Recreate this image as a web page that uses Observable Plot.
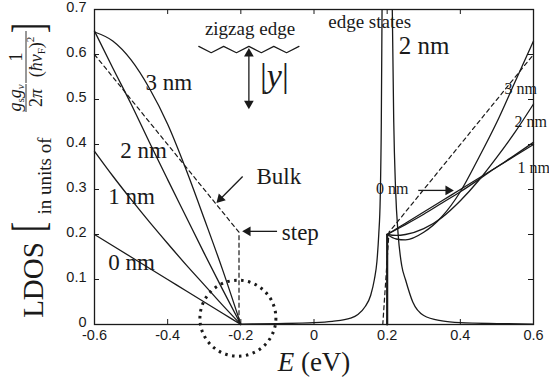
<!DOCTYPE html>
<html><head><meta charset="utf-8">
<script src="https://cdn.jsdelivr.net/npm/d3@7"></script>
<script src="https://cdn.jsdelivr.net/npm/@observablehq/plot@0.6"></script>
<style>body{margin:0;background:#fff;} svg{display:block;}</style>
</head><body><div id="chart"></div>
<script>
// ---- data ----
const xTicks = [-0.6, -0.4, -0.2, 0, 0.2, 0.4, 0.6];
const yTicks = [0, 0.1, 0.2, 0.3, 0.4, 0.5, 0.6, 0.7];

// hole side (E < -0.2)
const eLeft = [-0.6, -0.55, -0.5, -0.45, -0.4, -0.35, -0.3, -0.25, -0.2];
const ldos0Left = [0.2, 0.175, 0.15, 0.125, 0.1, 0.075, 0.05, 0.025, 0];
const ldos1Left = [0.385, 0.33, 0.278, 0.228, 0.18, 0.133, 0.088, 0.043, 0];
const ldos2Left = [0.652, 0.57, 0.49, 0.405, 0.322, 0.24, 0.158, 0.078, 0];
const ldos3Left = [0.65, 0.63, 0.588, 0.525, 0.445, 0.345, 0.235, 0.122, 0];

// electron side (E > 0.2)
const eRight = [0.2, 0.225, 0.25, 0.3, 0.35, 0.4, 0.45, 0.5, 0.55, 0.6];
const ldos0Right = [0.2, 0.2125, 0.225, 0.25, 0.275, 0.3, 0.325, 0.35, 0.375, 0.4];
const ldos1Right = [0.2, 0.211, 0.222, 0.245, 0.27, 0.295, 0.322, 0.35, 0.377, 0.405];
const ldos2Right = [0.2, 0.198, 0.2, 0.213, 0.238, 0.275, 0.32, 0.372, 0.428, 0.49];
const ldos3Right = [0.2, 0.19, 0.188, 0.205, 0.24, 0.295, 0.37, 0.45, 0.54, 0.63];

// step of the solid curves at E = 0.2
const stepE = [0.2, 0.2];
const stepL = [0, 0.2];

// bulk (dashed)
const bulkE = [-0.6, -0.205, -0.205, 0.188, 0.205, 0.6];
const bulkL = [0.6, 0.205, 0, 0, 0.205, 0.6];

// edge-state peak (2 nm)
const edgeE = [-0.2, -0.1, 0, 0.05, 0.1, 0.12, 0.14, 0.155, 0.165, 0.172, 0.177, 0.181, 0.184, 0.186, 0.19, 0.2, 0.21, 0.214, 0.218, 0.223, 0.23, 0.24, 0.25, 0.27, 0.3, 0.35, 0.4, 0.5, 0.6];
const edgeL = [0.001, 0.002, 0.004, 0.007, 0.014, 0.022, 0.04, 0.065, 0.1, 0.14, 0.2, 0.28, 0.45, 0.7, 1.2, 2.0, 1.2, 0.7, 0.45, 0.3, 0.2, 0.13, 0.1, 0.05, 0.02, 0.008, 0.004, 0.002, 0.001];

// annotations
const labelText = ["3 nm", "2 nm", "1 nm", "0 nm", "Bulk", "edge states", "2 nm", "zigzag edge", "0 nm"];
const labelE = [-0.397, -0.466, -0.499, -0.499, -0.096, 0.152, 0.301, -0.175, 0.214];
const labelL = [0.538, 0.387, 0.284, 0.138, 0.329, 0.673, 0.619, 0.656, 0.302];
const labelSize = [23, 23, 23, 23, 23, 19, 25, 19, 16];

const startText = ["step", "3 nm", "2 nm", "1 nm"];
const startE = [-0.088, 0.5205, 0.548, 0.556];
const startL = [0.204, 0.524, 0.451, 0.347];
const startSize = [23, 16, 16, 16];

const arrowE1 = [-0.195, -0.101, 0.285, -0.178];
const arrowL1 = [0.329, 0.207, 0.298, 0.602];
const arrowE2 = [-0.256, -0.181, 0.367, -0.178];
const arrowL2 = [0.279, 0.207, 0.298, 0.491];

const headE = [-0.256, -0.181, 0.367, -0.178, -0.178];
const headL = [0.279, 0.207, 0.298, 0.602, 0.491];
const headAngle = [224, 270, 90, 0, 180];

const zigE = [-0.315, -0.281, -0.247, -0.212, -0.178, -0.144, -0.110, -0.075, -0.041];
const zigL = [0.618, 0.604, 0.618, 0.604, 0.618, 0.604, 0.618, 0.604, 0.618];

const circleE = [-0.208];
const circleL = [0.014];

// ---- tables ----
const curves = [];
[[ldos0Left, "0L"], [ldos1Left, "1L"], [ldos2Left, "2L"], [ldos3Left, "3L"]].forEach(([v, s]) =>
  eLeft.forEach((e, i) => curves.push({E: e, L: v[i], s})));
[[ldos0Right, "0R"], [ldos1Right, "1R"], [ldos2Right, "2R"], [ldos3Right, "3R"]].forEach(([v, s]) =>
  eRight.forEach((e, i) => curves.push({E: e, L: v[i], s})));
const step = stepE.map((e, i) => ({E: e, L: stepL[i]}));
const bulk = bulkE.map((e, i) => ({E: e, L: bulkL[i]}));
const edge = edgeE.map((e, i) => ({E: e, L: edgeL[i]}));
const labels = labelText.map((t, i) => ({t, E: labelE[i], L: labelL[i], size: labelSize[i]}));
const startLabels = startText.map((t, i) => ({t, E: startE[i], L: startL[i], size: startSize[i]}));
const arrows = arrowE1.map((e, i) => ({E1: e, L1: arrowL1[i], E2: arrowE2[i], L2: arrowL2[i]}));
const heads = headE.map((e, i) => ({E: e, L: headL[i], a: headAngle[i]}));
const zig = zigE.map((e, i) => ({E: e, L: zigL[i]}));
const circle = circleE.map((e, i) => ({E: e, L: circleL[i]}));

const W = 549, H = 381, mL = 94, mR = 16, mT = 9, mB = 57;
const ink = "#1a1a1a";
const serif = "'Liberation Serif', 'Times New Roman', serif";
const sans = "'Liberation Sans', Arial, Helvetica, sans-serif";

const marks = [
  Plot.frame({stroke: ink, strokeWidth: 1.3}),
  Plot.tickX(xTicks, {x: d => d, insetTop: H - mT - mB - 5, stroke: ink}),
  Plot.tickX(xTicks, {x: d => d, insetBottom: H - mT - mB - 5, stroke: ink}),
  Plot.tickY(yTicks, {y: d => d, insetRight: W - mL - mR - 5, stroke: ink}),
  Plot.tickY(yTicks, {y: d => d, insetLeft: W - mL - mR - 5, stroke: ink}),
  Plot.axisX({ticks: xTicks, tickSize: 0, tickPadding: 5, tickFormat: d => String(d), fontSize: 14.5, fontFamily: sans, fill: ink}),
  Plot.axisY({ticks: yTicks, tickSize: 0, tickPadding: 8, dy: -2.5, tickFormat: d => String(d), fontSize: 14.5, fontFamily: sans, fill: ink}),
  Plot.line(bulk, {x: "E", y: "L", stroke: ink, strokeWidth: 1.2, strokeDasharray: "4,3.5"}),
  Plot.line(edge, {x: "E", y: "L", stroke: ink, strokeWidth: 1.3, curve: "monotone-x", clip: true}),
  Plot.line(curves, {x: "E", y: "L", z: "s", stroke: ink, strokeWidth: 1.3, curve: "monotone-x"}),
  Plot.line(step, {x: "E", y: "L", stroke: ink, strokeWidth: 2.2}),
  Plot.dot(circle, {x: "E", y: "L", r: 38, stroke: ink, strokeWidth: 3, strokeDasharray: "2.5,4.5", fill: "none"}),
  Plot.line(zig, {x: "E", y: "L", stroke: ink, strokeWidth: 1.2}),
  Plot.link(arrows, {x1: "E1", y1: "L1", x2: "E2", y2: "L2", stroke: ink, strokeWidth: 1.3}),
  Plot.dot(heads, {x: "E", y: "L", symbol: "triangle", r: 3.6, rotate: "a", fill: ink, stroke: "none"}),
  Plot.text(labels, {x: "E", y: "L", text: "t", fontSize: "size", fontFamily: serif, fill: ink, textAnchor: "middle"}),
  Plot.text(startLabels, {x: "E", y: "L", text: "t", fontSize: "size", fontFamily: serif, fill: ink, textAnchor: "start"})
];

const chart = Plot.plot({
  width: W, height: H,
  marginLeft: mL, marginRight: mR, marginTop: mT, marginBottom: mB,
  x: {domain: [-0.6, 0.6], label: null},
  y: {domain: [0, 0.7], label: null},
  style: {background: "#fff", color: ink},
  marks
});
document.getElementById("chart").appendChild(chart);

// ---- extra typeset text (math-like labels) ----
const svg = d3.select(chart);
const sx = chart.scale("x"), sy = chart.scale("y");

// |y|
const yy = svg.append("text")
  .attr("x", sx.apply(-0.107)).attr("y", sy.apply(0.551) + 11)
  .attr("text-anchor", "middle").attr("font-family", serif).attr("font-size", 34).attr("fill", ink);
yy.append("tspan").text("|");
yy.append("tspan").attr("font-style", "italic").text("y");
yy.append("tspan").text("|");

// x-axis label
const xl = svg.append("text")
  .attr("x", 314).attr("y", 371).attr("text-anchor", "middle")
  .attr("font-family", serif).attr("font-size", 27).attr("fill", ink);
xl.append("tspan").attr("font-style", "italic").text("E");
xl.append("tspan").text(" (eV)");

// y-axis label (rotated)
function rot(x, y, s) { return `translate(${x},${y}) rotate(-90)` + (s ? ` scale(1,${s})` : ""); }
function t(x, y, size, anchor, s) {
  return svg.append("text").attr("transform", rot(x, y, s)).attr("font-family", serif)
    .attr("font-size", size).attr("fill", ink).attr("text-anchor", anchor || "middle");
}
t(43, 280, 29).text("LDOS");
t(44, 227, 30, "middle", 1.55).text("[");
t(51, 176, 19).text("in units of");
// fraction g_s g_v / 2π
const n1 = t(21, 98, 18);
n1.append("tspan").attr("font-style", "italic").text("g");
n1.append("tspan").attr("font-size", 11).attr("dy", 3).text("s");
n1.append("tspan").attr("font-style", "italic").attr("dy", -3).text("g");
n1.append("tspan").attr("font-style", "italic").attr("font-size", 11).attr("dy", 3).text("v");
svg.append("line").attr("x1", 26).attr("x2", 26).attr("y1", 84).attr("y2", 112).attr("stroke", ink).attr("stroke-width", 0.9);
const d1 = t(42, 98, 18);
d1.append("tspan").text("2");
d1.append("tspan").attr("font-style", "italic").text("π");
// fraction 1/(ħ v_F)^2
t(22, 57, 18).text("1");
svg.append("line").attr("x1", 26).attr("x2", 26).attr("y1", 31).attr("y2", 83).attr("stroke", ink).attr("stroke-width", 0.9);
const d2 = t(42, 57, 18);
d2.append("tspan").text("(");
d2.append("tspan").attr("font-style", "italic").text("ħv");
d2.append("tspan").attr("font-size", 11).attr("dy", 3).text("F");
d2.append("tspan").attr("dy", -3).text(")");
d2.append("tspan").attr("font-size", 11).attr("dy", -8).text("2");
t(44, 28, 30, "middle", 1.55).text("]");
</script>
</body></html>
